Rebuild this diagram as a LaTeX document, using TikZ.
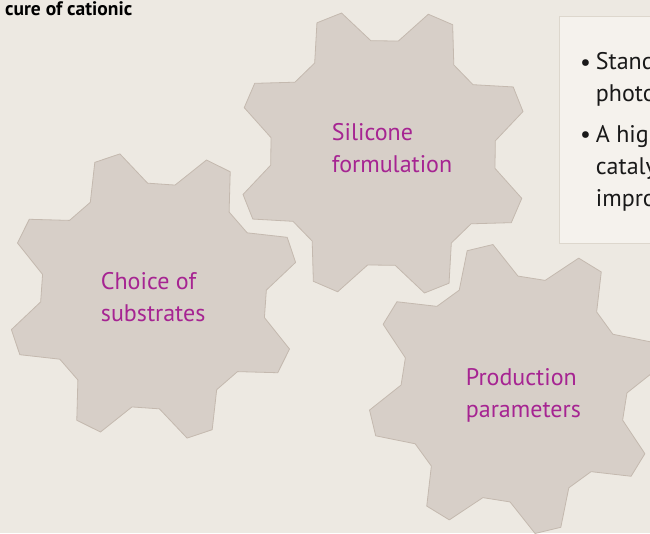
\documentclass[tikz,border=0pt]{standalone}
\usepackage{fontspec}
\setmainfont{PT Sans}
\usepackage{tikz}
\usetikzlibrary{positioning}

\definecolor{paper}{RGB}{237,233,226}
\definecolor{gearfill}{RGB}{215,207,200}
\definecolor{gearedge}{RGB}{196,185,175}
\definecolor{boxfill}{RGB}{245,242,237}
\definecolor{boxedge}{RGB}{221,215,205}
\definecolor{labelpink}{RGB}{166,36,146}

% one gear: centre x, centre y, angle of the first tooth
\newcommand{\gearat}[3]{%
  \begin{scope}[shift={(#1,#2)}]
    \draw[gear] ({#3-15.5}:113)
      \foreach \a in {0,45,...,315} {
        -- ({#3+\a-15.5}:113) -- ({#3+\a-5.2}:146)
        -- ({#3+\a+5.2}:146) -- ({#3+\a+15.5}:113)
      } -- cycle;
  \end{scope}}

\begin{document}
\begin{tikzpicture}[x=1pt, y=1pt,
    gear/.style={fill=gearfill, draw=gearedge, line width=0.8pt, line join=round},
    gearlabel/.style={anchor=base west, inner sep=0pt, align=left, text=labelpink,
      font=\fontsize{24}{32}\selectfont},
    notes/.style={anchor=base west, inner sep=0pt, align=left, text=black!90,
      font=\fontsize{24}{32}\selectfont}]
    \useasboundingbox (0,0) rectangle (650,-533);
    \clip (0,0) rectangle (650,-533);
    \fill[paper] (0,0) rectangle (650,-533);

    % Gears
    \gearat{153.5}{-296}{18.5}
    \gearat{383}{-153}{21.7}
    \gearat{514}{-389}{13.5}

    % Note box on the right (base anchor sits on the last line)
    \draw[fill=boxfill, draw=boxedge, line width=0.8pt] (559.3,-16) rectangle (700,-243.3);
    \node[notes] (bulletA) at (580,-70) {\textbullet};
    \node[notes] (noteA) at (595.7,-101.7) {Stand\\photo};
    \node[notes] (bulletB) at (580,-142.7) {\textbullet};
    \node[notes] (noteB) at (595.7,-206.7) {A high\\cataly\\impro};

    % Gear labels
    \node[gearlabel] (substrates) at (100.7,-321) {Choice of\\substrates};
    \node[gearlabel] (silicone) at (331.7,-172.3) {Silicone\\formulation};
    \node[gearlabel] (production) at (465.7,-417.7) {Production\\parameters};

    % Heading
    \node[anchor=base west, inner sep=0pt, font=\fontsize{19.5}{23}\selectfont\bfseries] (heading) at (5,-15)
        {cure of cationic};
\end{tikzpicture}
\end{document}
